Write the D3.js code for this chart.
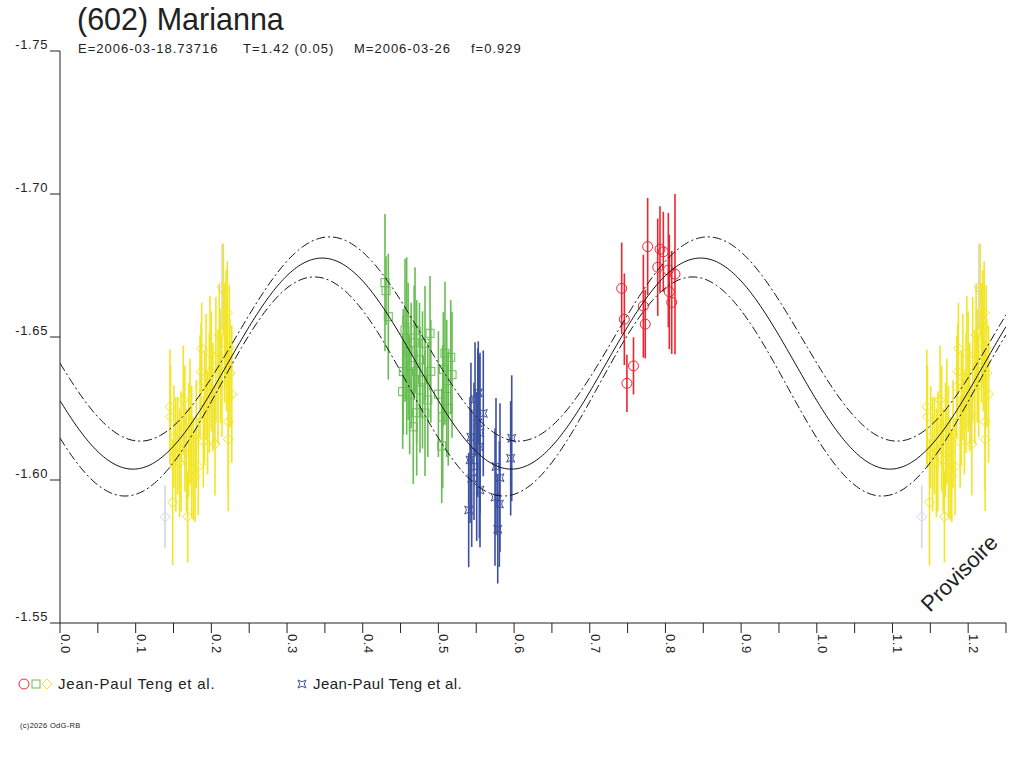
<!DOCTYPE html>
<html>
<head>
<meta charset="utf-8">
<script src="https://cdn.jsdelivr.net/npm/d3@7"></script>
<style>
  body { margin: 0; background: #fff; }
  svg { display: block; font-family: "Liberation Sans", Arial, sans-serif; }
</style>
</head>
<body>
<script>
// header text
const titleText = "(602) Marianna";
const subtitleParts = ["E=2006-03-18.73716", "T=1.42 (0.05)", "M=2006-03-26", "f=0.929"];

// axis ticks
const yTicks = [-1.75, -1.70, -1.65, -1.60, -1.55];
const yTickLabels = ["-1.75", "-1.70", "-1.65", "-1.60", "-1.55"];
const xMajorTicks = [0, 0.1, 0.2, 0.3, 0.4, 0.5, 0.6, 0.7, 0.8, 0.9, 1.0, 1.1, 1.2];
const xTickLabels = ["0.0", "0.1", "0.2", "0.3", "0.4", "0.5", "0.6", "0.7", "0.8", "0.9", "1.0", "1.1", "1.2"];
const xMinorTicks = [0.05, 0.15, 0.25, 0.35, 0.45, 0.55, 0.65, 0.75, 0.85, 0.95, 1.05, 1.15, 1.25];

// fit curves (upper, middle, lower): mean, amplitude, phase of faint extremum (2nd harmonic)
const fitMean = [-1.6493, -1.6407, -1.6327];
const fitAmp = [0.0357, 0.0369, 0.0383];
const fitPhase = [0.106, 0.0965, 0.086];

// observations: [phase, reduced magnitude, sigma]
const yellowPts = [
  [0.2158, -1.6667, 0.016], [0.2211, -1.6585, 0.018], [0.2193, -1.6535, 0.020],
  [0.1872, -1.6460, 0.016], [0.2105, -1.6507, 0.018], [0.1982, -1.6444, 0.020],
  [0.2237, -1.6462, 0.022], [0.1863, -1.6379, 0.017], [0.2246, -1.6374, 0.019],
  [0.1850, -1.6326, 0.018], [0.2088, -1.6326, 0.020], [0.1973, -1.6304, 0.021],
  [0.1453, -1.6256, 0.020], [0.1629, -1.6280, 0.019], [0.1462, -1.6221, 0.018],
  [0.1718, -1.6204, 0.022], [0.2224, -1.6204, 0.024], [0.1894, -1.6134, 0.016],
  [0.2048, -1.6126, 0.018], [0.2224, -1.6142, 0.025], [0.1761, -1.6041, 0.018],
  [0.1827, -1.6047, 0.017], [0.1784, -1.6012, 0.016], [0.1489, -1.5922, 0.022],
  [0.1687, -1.5872, 0.016], [0.1505, -1.6150, 0.018], [0.1530, -1.6090, 0.020],
  [0.1555, -1.6120, 0.017], [0.1580, -1.6060, 0.019], [0.1600, -1.6100, 0.021],
  [0.1650, -1.6180, 0.022], [0.1670, -1.6070, 0.018], [0.1700, -1.6140, 0.020],
  [0.1740, -1.6100, 0.023], [0.1800, -1.6160, 0.019], [0.1910, -1.6250, 0.020],
  [0.1930, -1.6360, 0.022], [0.1950, -1.6200, 0.018], [0.2000, -1.6380, 0.021],
  [0.2020, -1.6290, 0.019], [0.2060, -1.6420, 0.022], [0.2120, -1.6400, 0.020],
  [0.2140, -1.6330, 0.018], [0.2175, -1.6480, 0.021], [0.2200, -1.6430, 0.019],
  [0.2270, -1.6300, 0.024]
];
const grayPts = [
  [0.1387, -1.5871, 0.011], [0.2141, -1.6675, 0.015], [0.2035, -1.6227, 0.010]
];
const greenPts = [
  [0.4294, -1.6690, 0.024], [0.4308, -1.6662, 0.012], [0.4338, -1.6571, 0.022],
  [0.4581, -1.6559, 0.022], [0.4559, -1.6524, 0.025], [0.4691, -1.6524, 0.022],
  [0.4889, -1.6513, 0.020], [0.4823, -1.6478, 0.020], [0.4536, -1.6379, 0.022],
  [0.4713, -1.6379, 0.025], [0.4528, -1.6309, 0.020], [0.4757, -1.6315, 0.022],
  [0.4581, -1.6338, 0.018], [0.5087, -1.6443, 0.025], [0.5163, -1.6429, 0.020],
  [0.5065, -1.6387, 0.020], [0.5180, -1.6368, 0.022], [0.4713, -1.6235, 0.022],
  [0.4668, -1.6186, 0.020], [0.5057, -1.6221, 0.025], [0.5044, -1.6119, 0.020],
  [0.4823, -1.6234, 0.022], [0.4600, -1.6450, 0.024], [0.4640, -1.6400, 0.022],
  [0.4750, -1.6420, 0.020], [0.4790, -1.6350, 0.024], [0.4860, -1.6280, 0.020],
  [0.4900, -1.6380, 0.018], [0.5000, -1.6300, 0.022], [0.5110, -1.6320, 0.024],
  [0.5130, -1.6250, 0.020], [0.4620, -1.6300, 0.021], [0.4680, -1.6480, 0.020]
];
const bluePts = [
  [0.5484, -1.6282, 0.020], [0.5527, -1.6305, 0.018], [0.5593, -1.6233, 0.022],
  [0.5550, -1.6165, 0.028], [0.5541, -1.6116, 0.032], [0.5418, -1.6070, 0.022],
  [0.5506, -1.6047, 0.026], [0.5440, -1.6006, 0.024], [0.5550, -1.5965, 0.020],
  [0.5400, -1.5895, 0.020], [0.5761, -1.6047, 0.024], [0.5814, -1.6008, 0.026],
  [0.5748, -1.5940, 0.024], [0.5805, -1.5916, 0.022], [0.5784, -1.5828, 0.019],
  [0.5969, -1.6146, 0.022], [0.5955, -1.6076, 0.020], [0.5430, -1.6150, 0.026],
  [0.5470, -1.6100, 0.024], [0.5520, -1.6200, 0.026]
];
const redPts = [
  [0.7765, -1.6816, 0.017], [0.7928, -1.6807, 0.015], [0.7972, -1.6798, 0.014],
  [0.7898, -1.6744, 0.017], [0.8038, -1.6734, 0.020], [0.8126, -1.6720, 0.028],
  [0.7422, -1.6670, 0.016], [0.8051, -1.6658, 0.020], [0.8083, -1.6621, 0.018],
  [0.7708, -1.6608, 0.018], [0.7457, -1.6562, 0.016], [0.7733, -1.6545, 0.012],
  [0.7578, -1.6399, 0.010], [0.7491, -1.6338, 0.010]
];

const legendLabels = ["Jean-Paul Teng et al.", "Jean-Paul Teng et al."];
const copyrightText = "(c)2026 OdG-RB";

const width = 1024, height = 768;
const svg = d3.select("body").append("svg")
  .attr("width", width)
  .attr("height", height);

const x = d3.scaleLinear().domain([0, 1.25]).range([60, 1006]);
const y = d3.scaleLinear().domain([-1.75, -1.55]).range([51, 623]);

// marker shapes
const shapes = {
  circle: g => g.append("circle").attr("r", 5),
  square: g => g.append("rect").attr("x", -4).attr("y", -4).attr("width", 8).attr("height", 8),
  diamond: g => g.append("path").attr("d", "M0,-5L5,0L0,5L-5,0Z"),
  star: g => g.append("path").attr("d", "M-4,-4L0,-2.2L4,-4L2.2,0L4,4L0,2.2L-4,4L-2.2,0Z")
};

// plot area clip
svg.append("defs").append("clipPath").attr("id", "plot")
  .append("rect").attr("x", 60).attr("y", 51).attr("width", 946).attr("height", 572);

const dataLayer = svg.append("g").attr("clip-path", "url(#plot)");

function drawSeries(pts, color, shape) {
  // repeat points whose phase + 1 still lies on the axis
  const all = [];
  pts.forEach(p => {
    all.push(p);
    if (p[0] + 1 <= 1.25) all.push([p[0] + 1, p[1], p[2]]);
  });
  const g = dataLayer.append("g");
  g.selectAll("line")
    .data(all)
    .join("line")
    .attr("x1", d => x(d[0]))
    .attr("x2", d => x(d[0]))
    .attr("y1", d => y(d[1] - d[2]))
    .attr("y2", d => y(d[1] + d[2]))
    .attr("stroke", color)
    .attr("stroke-width", 1.6);
  g.selectAll("g.mk")
    .data(all)
    .join("g")
    .attr("class", "mk")
    .attr("transform", d => `translate(${x(d[0])},${y(d[1])})`)
    .each(function () {
      shapes[shape](d3.select(this))
        .attr("fill", "none")
        .attr("stroke", color)
        .attr("stroke-width", 1);
    });
}

drawSeries(grayPts, "#d6d6e6", "diamond");
drawSeries(yellowPts, "#f2e524", "diamond");
drawSeries(greenPts, "#68bd52", "square");
drawSeries(bluePts, "#3d51a0", "star");
drawSeries(redPts, "#ee2530", "circle");

// fit curves on top
const phases = d3.range(0, 1.2501, 0.0025);
const line = d3.line().x(d => x(d[0])).y(d => y(d[1]));
fitMean.forEach((m, i) => {
  const pts = phases.map(p => [p, m + fitAmp[i] * Math.cos(4 * Math.PI * (p - fitPhase[i]))]);
  dataLayer.append("path")
    .attr("d", line(pts))
    .attr("fill", "none")
    .attr("stroke", "#111")
    .attr("stroke-width", 1)
    .attr("stroke-dasharray", i === 1 ? null : "9,3,2,3");
});

// y axis
svg.append("line")
  .attr("x1", 60).attr("x2", 60)
  .attr("y1", y(-1.75)).attr("y2", y(-1.55))
  .attr("stroke", "#222");
svg.selectAll("line.ytick")
  .data(yTicks)
  .join("line")
  .attr("class", "ytick")
  .attr("x1", 50).attr("x2", 60)
  .attr("y1", d => y(d)).attr("y2", d => y(d))
  .attr("stroke", "#222");
svg.selectAll("text.ylab")
  .data(yTicks)
  .join("text")
  .attr("class", "ylab")
  .attr("x", 48)
  .attr("y", d => y(d) - 2)
  .attr("text-anchor", "end")
  .attr("font-size", 13)
  .attr("letter-spacing", 0.6)
  .attr("fill", "#222")
  .text((d, i) => yTickLabels[i]);

// x axis
svg.append("line")
  .attr("x1", x(0)).attr("x2", x(1.25))
  .attr("y1", 623).attr("y2", 623)
  .attr("stroke", "#222");
svg.selectAll("line.xtick")
  .data(xMajorTicks.concat(xMinorTicks))
  .join("line")
  .attr("class", "xtick")
  .attr("x1", d => x(d)).attr("x2", d => x(d))
  .attr("y1", 623).attr("y2", 633)
  .attr("stroke", "#222");
svg.selectAll("text.xlab")
  .data(xMajorTicks)
  .join("text")
  .attr("class", "xlab")
  .attr("transform", d => `translate(${x(d) + 1},634) rotate(90)`)
  .attr("font-size", 13)
  .attr("letter-spacing", 0.6)
  .attr("fill", "#222")
  .text((d, i) => xTickLabels[i]);

// title and subtitle
svg.append("text")
  .attr("x", 77).attr("y", 30)
  .attr("font-size", 30.5)
  .attr("fill", "#222")
  .text(titleText);
const subX = [78, 243, 354, 471];
subtitleParts.forEach((s, i) => {
  svg.append("text")
    .attr("x", subX[i]).attr("y", 53)
    .attr("font-size", 13)
    .attr("letter-spacing", 1)
    .attr("fill", "#222")
    .text(s);
});

// watermark
svg.append("text")
  .attr("transform", "translate(930,613) rotate(-45)")
  .attr("font-size", 22)
  .attr("fill", "#222")
  .text("Provisoire");

// legend
const leg1 = svg.append("g");
shapes.circle(leg1.append("g").attr("transform", "translate(24,684)"))
  .attr("fill", "none").attr("stroke", "#ee2530");
shapes.square(leg1.append("g").attr("transform", "translate(36,684)"))
  .attr("fill", "none").attr("stroke", "#68bd52");
shapes.diamond(leg1.append("g").attr("transform", "translate(47,684)"))
  .attr("fill", "none").attr("stroke", "#f2e524");
leg1.append("text")
  .attr("x", 58).attr("y", 689)
  .attr("font-size", 15)
  .attr("letter-spacing", 0.8)
  .attr("fill", "#222")
  .text(legendLabels[0]);

const leg2 = svg.append("g");
shapes.star(leg2.append("g").attr("transform", "translate(302,684)"))
  .attr("fill", "none").attr("stroke", "#3d51a0");
leg2.append("text")
  .attr("x", 313).attr("y", 689)
  .attr("font-size", 15)
  .attr("letter-spacing", 0.4)
  .attr("fill", "#222")
  .text(legendLabels[1]);

svg.append("text")
  .attr("x", 20).attr("y", 728)
  .attr("font-size", 7.5)
  .attr("letter-spacing", 0.3)
  .attr("fill", "#222")
  .text(copyrightText);
</script>
</body>
</html>
